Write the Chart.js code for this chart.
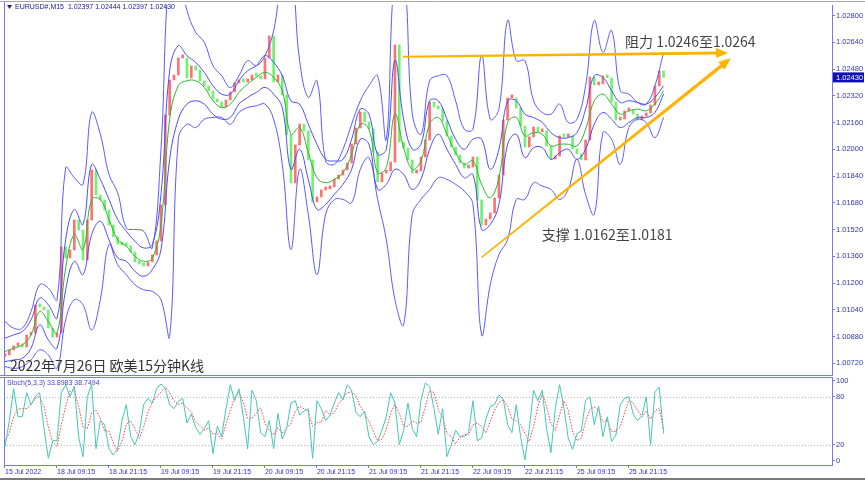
<!DOCTYPE html>
<html>
<head>
<meta charset="utf-8">
<title>EURUSD M15</title>
<script src="https://cdn.jsdelivr.net/npm/chart.js@4.4.0/dist/chart.umd.min.js"></script>
<style>
    html, body { margin: 0; padding: 0; background: #fff; }
    #wrap { position: relative; width: 865px; height: 480px; overflow: hidden; background: #fff; }
    #mainChart { position: absolute; left: 0; top: 0; }
    #stochChart { position: absolute; left: 0; top: 376px; }
    #baseLine { position: absolute; left: 0; top: 478px; width: 865px; height: 2px; background: #7a7a7a; }
</style>
</head>
<body>
<div id="wrap">
    <canvas id="mainChart" width="865" height="376"></canvas>
    <canvas id="stochChart" width="865" height="102"></canvas>
    <div id="baseLine"></div>
</div>
<script>
// EURUSD M15 chart, one candle per hour

const closes = [
    1.00770, 1.00800, 1.00824, 1.00824, 1.00818, 1.00889, 1.00901, 1.01069, 1.01057, 1.01039,
    1.00931, 1.00877, 1.00901, 1.01416, 1.01350, 1.01398, 1.01577, 1.01517, 1.01338, 1.01577,
    1.01876, 1.01727, 1.01697, 1.01637, 1.01547, 1.01476, 1.01434, 1.01428, 1.01422, 1.01386,
    1.01326, 1.01314, 1.01302, 1.01326, 1.01368, 1.01452, 1.01667, 1.02205, 1.02415, 1.02444,
    1.02546, 1.02546, 1.02427, 1.02498, 1.02474, 1.02409, 1.02379, 1.02349, 1.02301, 1.02283,
    1.02253, 1.02295, 1.02343, 1.02397, 1.02409, 1.02403, 1.02415, 1.02444, 1.02438, 1.02421,
    1.02546, 1.02678, 1.02403, 1.02444, 1.02325, 1.02086, 1.01799, 1.02026, 1.02151, 1.02110,
    1.01936, 1.01685, 1.01715, 1.01757, 1.01763, 1.01775, 1.01822, 1.01846, 1.01876, 1.01918,
    1.02032, 1.02127, 1.02223, 1.02163, 1.02122, 1.01984, 1.01805, 1.01858, 1.01870, 1.01924,
    1.02624, 1.02044, 1.02008, 1.01936, 1.01858, 1.01870, 1.01954, 1.02056, 1.02283, 1.02253,
    1.02241, 1.02169, 1.02080, 1.02014, 1.01966, 1.01918, 1.01888, 1.01894, 1.01954, 1.01697,
    1.01547, 1.01583, 1.01619, 1.01709, 1.01846, 1.02175, 1.02307, 1.02307, 1.02247, 1.02139,
    1.02014, 1.02074, 1.02133, 1.02104, 1.02110, 1.02020, 1.01942, 1.01960, 1.02080, 1.02074,
    1.02080, 1.02002, 1.01972, 1.01936, 1.02056, 1.02432, 1.02385, 1.02391, 1.02438, 1.02427,
    1.02283, 1.02175, 1.02181, 1.02229, 1.02235, 1.02211, 1.02175, 1.02199, 1.02217, 1.02265,
    1.02379, 1.02468, 1.02430
];
const firstOpen = 1.00760;

// band lines, one value every 2 hours
const bandStep = 2;
const upperOuter = [
    1.0097, 1.0093, 1.0093, 1.0103, 1.0119, 1.0117, 1.0110, 1.0189, 1.0183, 1.0179,
    1.0222, 1.0209, 1.0185, 1.0174, 1.0153, 1.0152, 1.0151, 1.0141, 1.0200, 1.0307,
    1.0307, 1.0283, 1.0270, 1.0264, 1.0250, 1.0244, 1.0237, 1.0244, 1.0253, 1.0250,
    1.0256, 1.0271, 1.0301, 1.0307, 1.0253, 1.0231, 1.0241, 1.0193, 1.0191, 1.0200,
    1.0215, 1.0229, 1.0238, 1.0244, 1.0206, 1.0307, 1.0307, 1.0221, 1.0209, 1.0241,
    1.0244, 1.0244, 1.0229, 1.0212, 1.0212, 1.0256, 1.0218, 1.0224, 1.0277, 1.0253,
    1.0253, 1.0229, 1.0222, 1.0221, 1.0227, 1.0216, 1.0218, 1.0238, 1.0277, 1.0258,
    1.0271, 1.0235, 1.0233, 1.0228, 1.0227, 1.0238, 1.0258
];
const lowerOuter = [
    1.0070, 1.0069, 1.0070, 1.0074, 1.0080, 1.0077, 1.0069, 1.0098, 1.0110, 1.0107,
    1.0092, 1.0110, 1.0143, 1.0131, 1.0125, 1.0119, 1.0116, 1.0115, 1.0110, 1.0088,
    1.0206, 1.0215, 1.0213, 1.0218, 1.0219, 1.0219, 1.0215, 1.0222, 1.0225, 1.0226,
    1.0227, 1.0218, 1.0191, 1.0140, 1.0188, 1.0161, 1.0125, 1.0161, 1.0170, 1.0170,
    1.0168, 1.0188, 1.0195, 1.0170, 1.0146, 1.0110, 1.0095, 1.0161, 1.0170, 1.0176,
    1.0183, 1.0182, 1.0179, 1.0175, 1.0167, 1.0089, 1.0119, 1.0137, 1.0146, 1.0170,
    1.0170, 1.0180, 1.0178, 1.0176, 1.0170, 1.0176, 1.0194, 1.0173, 1.0161, 1.0210,
    1.0206, 1.0191, 1.0213, 1.0218, 1.0216, 1.0207, 1.0219
];
const upperInner = [
    1.0087, 1.0089, 1.0091, 1.0098, 1.0111, 1.0107, 1.0099, 1.0146, 1.0164, 1.0155,
    1.0191, 1.0182, 1.0170, 1.0158, 1.0151, 1.0145, 1.0141, 1.0143, 1.0173, 1.0247,
    1.0262, 1.0256, 1.0252, 1.0246, 1.0238, 1.0233, 1.0233, 1.0241, 1.0247, 1.0250,
    1.0256, 1.0252, 1.0244, 1.0229, 1.0227, 1.0215, 1.0203, 1.0194, 1.0193, 1.0194,
    1.0206, 1.0224, 1.0221, 1.0197, 1.0200, 1.0253, 1.0218, 1.0200, 1.0203, 1.0229,
    1.0229, 1.0218, 1.0206, 1.0200, 1.0206, 1.0206, 1.0188, 1.0200, 1.0229, 1.0229,
    1.0221, 1.0219, 1.0216, 1.0210, 1.0207, 1.0207, 1.0210, 1.0224, 1.0244, 1.0243,
    1.0235, 1.0228, 1.0229, 1.0228, 1.0227, 1.0231, 1.0238
];
const lowerInner = [
    1.0073, 1.0074, 1.0075, 1.0081, 1.0095, 1.0086, 1.0081, 1.0116, 1.0133, 1.0125,
    1.0149, 1.0157, 1.0146, 1.0135, 1.0133, 1.0127, 1.0124, 1.0128, 1.0140, 1.0194,
    1.0218, 1.0227, 1.0229, 1.0227, 1.0221, 1.0218, 1.0219, 1.0227, 1.0231, 1.0234,
    1.0237, 1.0233, 1.0225, 1.0188, 1.0200, 1.0182, 1.0164, 1.0167, 1.0173, 1.0179,
    1.0188, 1.0206, 1.0203, 1.0176, 1.0179, 1.0188, 1.0185, 1.0176, 1.0182, 1.0200,
    1.0209, 1.0200, 1.0191, 1.0183, 1.0185, 1.0152, 1.0155, 1.0167, 1.0203, 1.0209,
    1.0195, 1.0201, 1.0201, 1.0194, 1.0198, 1.0200, 1.0194, 1.0200, 1.0215, 1.0222,
    1.0218, 1.0213, 1.0216, 1.0219, 1.0219, 1.0222, 1.0233
];
const middleLine = [
    1.0079, 1.0081, 1.0083, 1.0089, 1.0103, 1.0097, 1.0090, 1.0129, 1.0149, 1.0140,
    1.0170, 1.0170, 1.0158, 1.0146, 1.0142, 1.0136, 1.0133, 1.0135, 1.0155, 1.0218,
    1.0238, 1.0241, 1.0241, 1.0237, 1.0229, 1.0225, 1.0227, 1.0234, 1.0239, 1.0243,
    1.0246, 1.0243, 1.0235, 1.0209, 1.0213, 1.0198, 1.0183, 1.0180, 1.0182, 1.0186,
    1.0197, 1.0215, 1.0212, 1.0186, 1.0189, 1.0221, 1.0201, 1.0188, 1.0193, 1.0215,
    1.0219, 1.0209, 1.0198, 1.0191, 1.0193, 1.0179, 1.0171, 1.0183, 1.0216, 1.0219,
    1.0208, 1.0210, 1.0209, 1.0202, 1.0203, 1.0203, 1.0202, 1.0212, 1.0229, 1.0233,
    1.0227, 1.0221, 1.0223, 1.0224, 1.0223, 1.0227, 1.0235
];

// Stoch(5,3,3), hourly
const stochK = [
    17, 50, 90, 55, 55, 85, 70, 80, 85, 40,
    3, 25, 25, 85, 95, 80, 93, 30, 5, 80,
    95, 15, 50, 45, 15, 7, 15, 50, 70, 30,
    20, 35, 70, 78, 72, 90, 96, 90, 70, 65,
    74, 78, 47, 58, 42, 33, 40, 50, 9, 43,
    30, 65, 95, 75, 90, 55, 15, 88, 75, 35,
    30, 50, 15, 59, 27, 40, 72, 75, 57, 62,
    65, 3, 75, 65, 50, 57, 72, 85, 76, 95,
    88, 60, 55, 62, 30, 20, 24, 38, 55, 85,
    72, 20, 38, 72, 40, 30, 75, 97, 93, 65,
    33, 65, 5, 20, 38, 30, 30, 35, 75, 25,
    28, 52, 68, 70, 82, 77, 45, 35, 70, 30,
    1, 40, 88, 75, 88, 40, 10, 65, 95, 66,
    28, 14, 34, 37, 75, 80, 45, 68, 30, 55,
    24, 32, 70, 78, 80, 58, 50, 56, 80, 20,
    86, 92, 33.9
];
const stochD = [
    25, 35, 55, 65, 65, 65, 70, 78, 80, 68,
    42, 23, 18, 45, 68, 87, 88, 68, 42, 40,
    60, 63, 53, 37, 37, 22, 12, 24, 45, 50,
    40, 28, 42, 61, 73, 80, 86, 92, 85, 75,
    70, 72, 66, 61, 49, 44, 38, 41, 33, 34,
    27, 46, 63, 78, 86, 73, 53, 53, 59, 66,
    47, 38, 32, 41, 34, 42, 46, 62, 68, 65,
    61, 43, 48, 48, 63, 57, 60, 71, 78, 85,
    86, 81, 68, 59, 49, 37, 25, 27, 39, 59,
    71, 59, 43, 43, 50, 47, 48, 67, 88, 85,
    64, 54, 34, 30, 21, 29, 33, 32, 45, 47,
    43, 35, 49, 63, 73, 76, 68, 52, 50, 45,
    34, 24, 43, 68, 84, 68, 46, 38, 57, 75,
    63, 36, 25, 28, 49, 64, 67, 64, 48, 51,
    36, 37, 42, 60, 76, 72, 63, 55, 62, 52,
    62, 66, 38.7
];

const timeLabels = ['15 Jul 2022', '18 Jul 09:15', '18 Jul 21:15', '19 Jul 09:15', '19 Jul 21:15',
    '20 Jul 09:15', '20 Jul 21:15', '21 Jul 09:15', '21 Jul 21:15', '22 Jul 09:15',
    '22 Jul 21:15', '25 Jul 09:15', '25 Jul 21:15'];
const labelEvery = 12;
const priceTicks = [1.0072, 1.0088, 1.0104, 1.0120, 1.0136, 1.0152, 1.0168, 1.0184,
    1.0200, 1.0216, 1.0232, 1.0248, 1.0264, 1.0280];
const stochTicks = [0, 20, 80, 100];
const lastPrice = 1.02430;

// hand-drawn annotations, in (hour index, price)
const notes = {
    resistance: { from: [91.8, 1.02554], to: [166.9, 1.02576], text: '阻力 1.0246至1.0264', at: [143.1, 1.02642] },
    support: { from: [110.0, 1.01354], to: [167.5, 1.02544], text: '支撑 1.0162至1.0181', at: [123.9, 1.01488] }
};

const X_MIN = -0.23, X_MAX = 190.87;
const AXIS_BLUE = '#7878e6';
const LABEL_BLUE = '#3434b0';
const SMALL_FONT = 'Tahoma, "Liberation Sans", sans-serif';
const tickFont = { family: SMALL_FONT, size: 7.5 };

// candles as floating bars: open = previous close
const candleData = closes.map((c, i) => ({ x: i, y: [i === 0 ? firstOpen : closes[i - 1], c] }));
const candleColors = candleData.map(d => d.y[1] >= d.y[0] ? '#ff7272' : '#72f072');

function lineSet(values, color, width) {
    return {
        type: 'line',
        data: values.map((v, k) => ({ x: k * bandStep, y: v })),
        borderColor: color,
        borderWidth: width,
        pointRadius: 0,
        tension: 0.4,
        order: 0
    };
}

// keep the chart area fixed: no extra room for the end labels
function noLabelPadding(s) {
    s.paddingTop = 0;
    s.paddingBottom = 0;
}

function drawArrow(ctx, x1, y1, x2, y2, w1, w2) {
    const a = Math.atan2(y2 - y1, x2 - x1);
    const nx = -Math.sin(a), ny = Math.cos(a);
    const head = 12, hw = 5;
    const bx = x2 - head * Math.cos(a), by = y2 - head * Math.sin(a);
    ctx.beginPath();
    ctx.moveTo(x1 + nx * w1 / 2, y1 + ny * w1 / 2);
    ctx.lineTo(bx + nx * w2 / 2, by + ny * w2 / 2);
    ctx.lineTo(bx + nx * hw, by + ny * hw);
    ctx.lineTo(x2, y2);
    ctx.lineTo(bx - nx * hw, by - ny * hw);
    ctx.lineTo(bx - nx * w2 / 2, by - ny * w2 / 2);
    ctx.lineTo(x1 - nx * w1 / 2, y1 - ny * w1 / 2);
    ctx.closePath();
    ctx.fill();
}

const mainDecor = {
    id: 'mainDecor',
    afterDatasetsDraw(chart) {
        const ctx = chart.ctx;
        const xs = chart.scales.x, ys = chart.scales.y;
        const px = p => [xs.getPixelForValue(p[0]), ys.getPixelForValue(p[1])];
        ctx.save();
        ctx.fillStyle = '#ffb300';
        let a = px(notes.resistance.from), b = px(notes.resistance.to);
        drawArrow(ctx, a[0], a[1], b[0], b[1], 2, 3);
        a = px(notes.support.from); b = px(notes.support.to);
        drawArrow(ctx, a[0], a[1], b[0], b[1], 1.5, 3.5);

        ctx.fillStyle = '#444';
        ctx.font = '14px "Noto Sans CJK SC", "Noto Sans", sans-serif';
        ctx.textBaseline = 'middle';
        ctx.textAlign = 'left';
        for (const n of [notes.resistance, notes.support]) {
            const p = px(n.at);
            ctx.fillText(n.text, p[0], p[1]);
        }
        ctx.restore();
    },
    afterDraw(chart) {
        const ctx = chart.ctx;
        const area = chart.chartArea;
        ctx.save();
        // panel frame
        ctx.strokeStyle = AXIS_BLUE;
        ctx.lineWidth = 1;
        ctx.beginPath();
        ctx.moveTo(4.5, 2); ctx.lineTo(4.5, 376);
        ctx.moveTo(0, 375.5); ctx.lineTo(area.right, 375.5);
        ctx.stroke();
        ctx.strokeStyle = '#a8a8a8';
        ctx.beginPath();
        ctx.moveTo(0, 1.5); ctx.lineTo(865, 1.5);
        ctx.stroke();

        // header
        ctx.fillStyle = '#20208c';
        ctx.beginPath();
        ctx.moveTo(7, 5); ctx.lineTo(12, 5); ctx.lineTo(9.5, 9);
        ctx.closePath(); ctx.fill();
        ctx.font = '7px ' + SMALL_FONT;
        ctx.textBaseline = 'middle';
        ctx.fillText('EURUSD#,M15  1.02397 1.02444 1.02397 1.02430', 15, 7.5);

        // title
        ctx.fillStyle = '#333';
        ctx.font = '14px "Noto Sans CJK SC", "Noto Sans", sans-serif';
        ctx.fillText('2022年7月26日 欧美15分钟K线', 10, 366);

        // last price box
        const y = chart.scales.y.getPixelForValue(lastPrice);
        ctx.fillStyle = '#1010b0';
        ctx.fillRect(area.right + 1, y - 5, 31, 10);
        ctx.fillStyle = '#fff';
        ctx.font = '7.5px ' + SMALL_FONT;
        ctx.fillText(lastPrice.toFixed(5), area.right + 4, y + 0.5);
        ctx.restore();
    }
};

new Chart(document.getElementById('mainChart'), {
    type: 'bar',
    data: {
        datasets: [
            lineSet(middleLine, '#2fb52f', 1),
            lineSet(upperInner, '#4c4cff', 1),
            lineSet(lowerInner, '#4c4cff', 1),
            lineSet(upperOuter, '#5a5aff', 1),
            lineSet(lowerOuter, '#5a5aff', 1),
            {
                type: 'bar',
                data: candleData,
                backgroundColor: candleColors,
                barThickness: 2,
                minBarLength: 3,
                order: 1
            }
        ]
    },
    options: {
        responsive: false,
        animation: false,
        layout: { padding: { left: 4, top: 5, right: 0, bottom: 1 } },
        plugins: { legend: { display: false }, tooltip: { enabled: false } },
        scales: {
            x: { type: 'linear', min: X_MIN, max: X_MAX, display: false, offset: false },
            y: {
                position: 'right',
                min: 1.00650,
                max: 1.02863,
                afterBuildTicks: s => { s.ticks = priceTicks.map(v => ({ value: v })); },
                afterFit: s => { s.width = 33; noLabelPadding(s); },
                ticks: { font: tickFont, color: LABEL_BLUE, padding: 1, callback: v => v.toFixed(5) },
                grid: { drawOnChartArea: false, color: AXIS_BLUE, tickLength: 3 },
                border: { color: AXIS_BLUE }
            }
        }
    },
    plugins: [mainDecor]
});

const stochDecor = {
    id: 'stochDecor',
    beforeDatasetsDraw(chart) {
        const ctx = chart.ctx;
        const area = chart.chartArea;
        const ys = chart.scales.y;
        ctx.save();
        ctx.strokeStyle = '#b4b4b4';
        ctx.lineWidth = 1;
        ctx.setLineDash([1, 2]);
        for (const lv of [20, 80]) {
            const y = Math.round(ys.getPixelForValue(lv)) + 0.5;
            ctx.beginPath(); ctx.moveTo(area.left, y); ctx.lineTo(area.right, y); ctx.stroke();
        }
        ctx.restore();
    },
    afterDraw(chart) {
        const ctx = chart.ctx;
        const area = chart.chartArea;
        ctx.save();
        ctx.strokeStyle = AXIS_BLUE;
        ctx.lineWidth = 1;
        ctx.beginPath();
        ctx.moveTo(0, 1.5); ctx.lineTo(area.right, 1.5);
        ctx.moveTo(4.5, 1); ctx.lineTo(4.5, area.bottom);
        ctx.stroke();
        ctx.fillStyle = '#4848a8';
        ctx.font = '7px ' + SMALL_FONT;
        ctx.textBaseline = 'middle';
        ctx.fillText('Stoch(5,3,3) 33.8983 38.7494', 7, 7);
        ctx.restore();
    }
};

new Chart(document.getElementById('stochChart'), {
    type: 'line',
    data: {
        datasets: [
            {
                data: stochK.map((v, i) => ({ x: i, y: v })),
                borderColor: '#44c6b8',
                borderWidth: 1,
                pointRadius: 0,
                tension: 0
            },
            {
                data: stochD.map((v, i) => ({ x: i, y: v })),
                borderColor: '#ff3c3c',
                borderWidth: 1,
                borderDash: [1.5, 1.5],
                pointRadius: 0,
                tension: 0
            }
        ]
    },
    options: {
        responsive: false,
        animation: false,
        layout: { padding: { left: 4, top: 1, right: 0, bottom: 0 } },
        plugins: { legend: { display: false }, tooltip: { enabled: false } },
        scales: {
            x: {
                type: 'linear',
                min: X_MIN,
                max: X_MAX,
                afterBuildTicks: s => { s.ticks = timeLabels.map((t, j) => ({ value: j * labelEvery })); },
                afterFit: s => { s.height = 13; },
                ticks: {
                    font: { family: SMALL_FONT, size: 7 }, color: LABEL_BLUE, padding: 0, align: 'start',
                    maxRotation: 0, autoSkip: false,
                    callback: (v, idx) => timeLabels[idx]
                },
                grid: { drawOnChartArea: false, color: AXIS_BLUE, tickLength: 3 },
                border: { color: AXIS_BLUE }
            },
            y: {
                position: 'right',
                min: -5.4,
                max: 104.6,
                afterBuildTicks: s => { s.ticks = stochTicks.map(v => ({ value: v })); },
                afterFit: s => { s.width = 33; noLabelPadding(s); },
                ticks: { font: tickFont, color: LABEL_BLUE, padding: 1 },
                grid: { drawOnChartArea: false, color: AXIS_BLUE, tickLength: 3 },
                border: { color: AXIS_BLUE }
            }
        }
    },
    plugins: [stochDecor]
});
</script>
</body>
</html>
